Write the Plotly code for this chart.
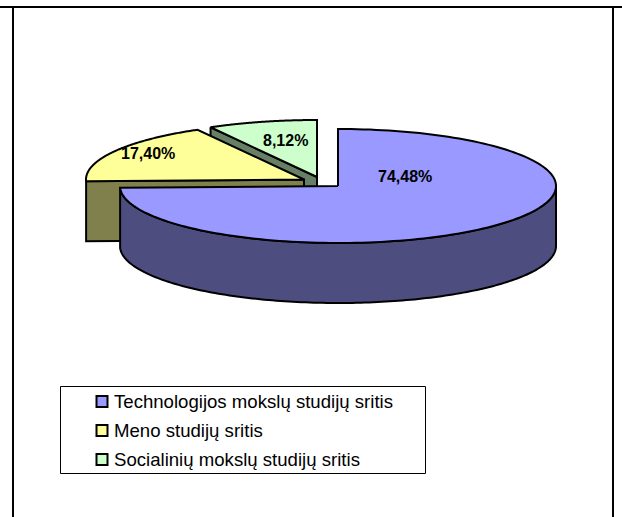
import numpy as np
import plotly.graph_objects as go

categories = ["Technologijos mokslų studijų sritis", "Meno studijų sritis", "Socialinių mokslų studijų sritis"]
values = [74.48, 17.40, 8.12]
value_labels = ["74,48%", "17,40%", "8,12%"]

top_colors = ["#9999FF", "#FFFF99", "#CCFFCC"]
side_colors = ["#4D4D80", "#80804D", "#668066"]
centers = [(338, 186), (304, 179.5), (317, 177)]
label_pos = [(405, 176), (147.5, 153), (285, 140)]
legend_y = [401.5, 430.5, 459.5]
RX, RY, DEPTH = 218, 57, 60
LW = 2

fig = go.Figure()


def poly(xs, ys, fill):
    fig.add_trace(go.Scatter(
        x=xs, y=ys, mode="lines", fill="toself", fillcolor=fill,
        line=dict(color="black", width=LW, simplify=False), hoverinfo="skip", showlegend=False))


def rim(c, a0, a1, dy=0):
    t = np.radians(np.linspace(a0, a1, 160))
    return c[0] + RX * np.sin(t), c[1] - RY * np.cos(t) + dy


# Slice angle spans, clockwise from 12 o'clock, derived from the values
total = sum(values)
edges = np.concatenate([[0], np.cumsum(values) / total * 360])
spans = [(edges[i], edges[i + 1]) for i in range(3)]

# Back to front: green, yellow, blue
for i in [2, 1, 0]:
    c = centers[i]
    a0, a1 = spans[i]
    if i in (1, 2):
        lx = c[0] + RX * np.sin(np.radians(a0))
        ly = c[1] - RY * np.cos(np.radians(a0))
        poly([lx, c[0], c[0], lx, lx], [ly, c[1], c[1] + DEPTH, ly + DEPTH, ly], side_colors[i])
    else:
        xu, yu = rim(c, 90, a1)
        xl, yl = rim(c, a1, 90, DEPTH)
        poly(list(xu) + list(xl) + [xu[0]], list(yu) + list(yl) + [yu[0]], side_colors[i])
    x, y = rim(c, a0, a1)
    poly([c[0]] + list(x) + [c[0]], [c[1]] + list(y) + [c[1]], top_colors[i])

# Percentage labels
for (lx, ly), t in zip(label_pos, value_labels):
    fig.add_annotation(x=lx, y=ly, text=f"<b>{t}</b>", showarrow=False,
                       font=dict(family="Liberation Sans", size=16, color="black"),
                       xanchor="center", yanchor="middle")

# Legend entries
fig.add_trace(go.Scatter(
    x=[102] * 3, y=legend_y, mode="markers", hoverinfo="skip", showlegend=False,
    marker=dict(symbol="square", size=11, color=top_colors, line=dict(color="black", width=2))))
for ly, t in zip(legend_y, categories):
    fig.add_annotation(x=111.5, y=ly, text=t, showarrow=False, xanchor="left", yanchor="middle",
                       font=dict(family="Liberation Sans", size=18.6, color="black"))

shapes = [
    dict(type="rect", x0=60.5, x1=425.5, y0=386.5, y1=473.5, line=dict(color="black", width=1), layer="below"),
    dict(type="line", x0=0, x1=622, y0=7, y1=7, line=dict(color="black", width=2)),
    dict(type="line", x0=13, x1=13, y0=7, y1=517, line=dict(color="black", width=2)),
    dict(type="line", x0=613, x1=613, y0=7, y1=517, line=dict(color="black", width=2)),
]

fig.update_layout(
    width=622, height=517, autosize=False,
    margin=dict(l=0, r=0, t=0, b=0),
    paper_bgcolor="white", plot_bgcolor="white",
    xaxis=dict(range=[0, 622], visible=False, fixedrange=True),
    yaxis=dict(range=[517, 0], visible=False, fixedrange=True),
    shapes=shapes, showlegend=False,
)
fig.write_html("out.html", config={"displayModeBar": False},
               post_script="document.body.style.margin='0';document.documentElement.style.overflow='hidden';")
